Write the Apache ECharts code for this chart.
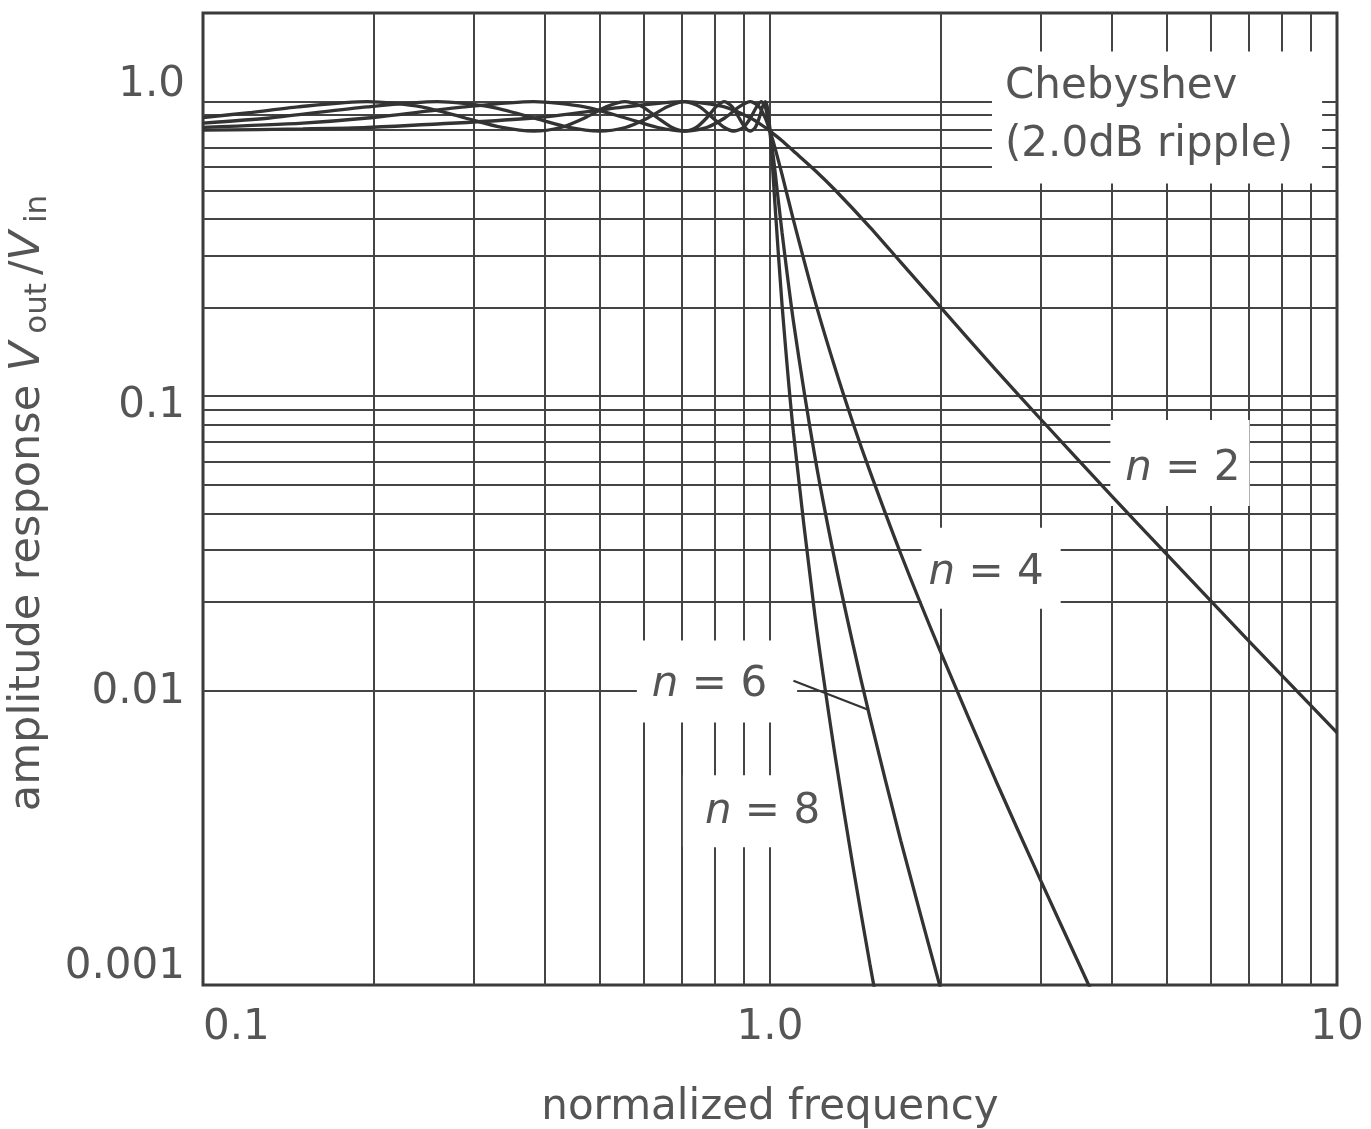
<!DOCTYPE html>
<html>
<head>
<meta charset="utf-8">
<title>Chebyshev low-pass response</title>
<script src="https://cdn.jsdelivr.net/npm/echarts@6/dist/echarts.min.js"></script>
<style>
  html, body { margin: 0; padding: 0; background: #fff; }
  #chart { width: 1371px; height: 1129px; }
</style>
</head>
<body>
<div id="chart"></div>
<script>
// Chebyshev low-pass filters, 2.0 dB passband ripple: amplitude response vs normalized frequency

// n = 2
const freqN2 = [0.1, 0.15, 0.195, 0.383, 0.556, 0.707, 0.831, 0.924, 0.981, 1.0,
  1.005, 1.01, 1.02, 1.05, 1.1, 1.2, 1.3, 1.5, 1.7, 2, 2.5, 3, 4, 5, 7, 10];
const ampN2 = [0.800, 0.808, 0.817, 0.880, 0.960, 1.0, 0.960, 0.880, 0.817, 0.794,
  0.789, 0.783, 0.771, 0.737, 0.680, 0.585, 0.503, 0.375, 0.285, 0.200, 0.123, 0.0836, 0.0459, 0.0291, 0.0147, 0.0072];

// n = 4
const freqN4 = [0.1, 0.15, 0.195, 0.290, 0.383, 0.471, 0.556, 0.634, 0.707, 0.773, 0.832, 0.882,
  0.924, 0.957, 0.981, 0.995, 1.0,
  1.005, 1.01, 1.02, 1.05, 1.1, 1.2, 1.3, 1.4, 1.5, 1.7, 2, 2.5, 3, 3.5, 4];
const ampN4 = [0.818, 0.846, 0.880, 0.960, 1.0, 0.960, 0.880, 0.817, 0.794, 0.817, 0.880, 0.960,
  1.0, 0.960, 0.880, 0.817, 0.794,
  0.771, 0.747, 0.699, 0.566, 0.396, 0.211, 0.126, 0.0812, 0.0556, 0.0292, 0.0135, 0.00496, 0.00227, 0.00119, 0.00068];

// n = 6
const freqN6 = [0.1, 0.131, 0.195, 0.259, 0.321, 0.383, 0.442, 0.5, 0.556, 0.609, 0.659, 0.707,
  0.752, 0.793, 0.831, 0.866, 0.897, 0.924, 0.947, 0.966, 0.981, 0.991, 0.998, 1.0,
  1.005, 1.01, 1.02, 1.05, 1.1, 1.2, 1.3, 1.4, 1.5, 1.7, 2, 2.1];
const ampN6 = [0.846, 0.880, 0.960, 1.0, 0.960, 0.880, 0.817, 0.794, 0.817, 0.880, 0.960, 1.0,
  0.960, 0.880, 0.817, 0.794, 0.817, 0.880, 0.960, 1.0, 0.960, 0.880, 0.817, 0.794,
  0.741, 0.687, 0.586, 0.360, 0.179, 0.0623, 0.0279, 0.0144, 0.00812, 0.00310, 0.00097, 0.00069];

// n = 8
const freqN8 = [0.1, 0.122, 0.147, 0.195, 0.243, 0.290, 0.337, 0.383, 0.428, 0.471, 0.514, 0.556,
  0.596, 0.634, 0.672, 0.707, 0.741, 0.773, 0.803, 0.831, 0.858, 0.882, 0.904, 0.924,
  0.942, 0.957, 0.970, 0.981, 0.989, 0.995, 0.999, 1.0,
  1.005, 1.01, 1.02, 1.05, 1.1, 1.2, 1.3, 1.4, 1.5, 1.6];
const ampN8 = [0.883, 0.920, 0.960, 1.0, 0.960, 0.880, 0.817, 0.794, 0.817, 0.880, 0.960, 1.0,
  0.960, 0.880, 0.817, 0.794, 0.817, 0.880, 0.960, 1.0, 0.960, 0.880, 0.817, 0.794,
  0.817, 0.880, 0.960, 1.0, 0.960, 0.880, 0.817, 0.794,
  0.699, 0.607, 0.453, 0.205, 0.0750, 0.0180, 0.00616, 0.00254, 0.00118, 0.00060];

// log-paper rulings (the outer frame covers 0.1 / 10 and 0.001 / 2)
const xGridValues = [0.2, 0.3, 0.4, 0.5, 0.6, 0.7, 0.8, 0.9, 1, 2, 3, 4, 5, 6, 7, 8, 9];
const yGridValues = [0.002, 0.003, 0.004, 0.005, 0.006, 0.007, 0.008, 0.009,
  0.01, 0.02, 0.03, 0.04, 0.05, 0.06, 0.07, 0.08, 0.09,
  0.1, 0.2, 0.3, 0.4, 0.5, 0.6, 0.7, 0.8, 0.9, 1];

// tick labels
const xTickValues = [0.1, 1, 10];
const xTickLabels = ['0.1', '1.0', '10'];
const yTickValues = [0.001, 0.01, 0.1, 1];
const yTickLabels = ['0.001', '0.01', '0.1', '1.0'];

// curve captions
const captionTexts = ['Chebyshev\n(2.0dB ripple)', '{i|n} = 2', '{i|n} = 4', '{i|n} = 6', '{i|n} = 8'];

const FONT = 'DejaVu Sans';
const TEXT = '#555';
const INK = '#333';
const RULE = '#444';
const FS = 42;

function pairs(xs, ys) { return xs.map((x, i) => [x, ys[i]]); }
function tickIndex(values, v) {
  for (let i = 0; i < values.length; i++) {
    if (Math.abs(Math.log10(v) - Math.log10(values[i])) < 1e-6) return i;
  }
  return -1;
}

// caption anchors (data units) and the white boxes that blank the ruling behind them
const captionLayout = [
  { at: [2.463, 0.8826], padding: [6, 29, 10, 13], lineHeight: 58, align: 'left' },
  { at: [5.285, 0.0593], padding: [26, 9, 14, 15], lineHeight: 46 },
  { at: [2.454, 0.0260], padding: [22, 17, 13, 7], lineHeight: 46 },
  { at: [0.8063, 0.01073], padding: [22, 30, 14, 15], lineHeight: 46 },
  { at: [0.9720, 0.00389], padding: [14, 23, 12, 22], lineHeight: 46 }
];

const curveStyle = { color: INK, width: 3.3 };
function curve(name, xs, ys, extra) {
  return Object.assign({
    type: 'line', name: name, data: pairs(xs, ys), z: 3,
    showSymbol: false, symbol: 'none', smooth: 0.25, clip: true,
    lineStyle: curveStyle, silent: true, animation: false
  }, extra || {});
}

const chart = echarts.init(document.getElementById('chart'), null, { renderer: 'canvas' });

const option = {
  backgroundColor: '#fff',
  animation: false,
  grid: {
    left: 203, right: 34, top: 13, bottom: 144,
    outerBoundsMode: 'none', containLabel: false,
    show: true, borderColor: '#3a3a3a', borderWidth: 3, backgroundColor: 'transparent'
  },
  xAxis: {
    type: 'log', logBase: 10, min: 0.1, max: 10,
    axisLine: { show: false }, axisTick: { show: false }, splitLine: { show: false },
    axisLabel: {
      show: true, margin: 20, fontFamily: FONT, fontSize: FS, color: TEXT, lineHeight: 46,
      alignMinLabel: 'left', showMinLabel: true, showMaxLabel: true,
      formatter: v => { const i = tickIndex(xTickValues, v); return i < 0 ? '' : xTickLabels[i]; }
    },
    name: 'normalized frequency', nameLocation: 'middle', nameGap: 100,
    nameTextStyle: { fontFamily: FONT, fontSize: FS, color: TEXT, lineHeight: 46 }
  },
  yAxis: {
    type: 'log', logBase: 10, min: 0.001, max: 2,
    axisLine: { show: false }, axisTick: { show: false }, splitLine: { show: false },
    axisLabel: {
      show: true, margin: 18, fontFamily: FONT, fontSize: FS, color: TEXT,
      showMinLabel: true, showMaxLabel: true,
      formatter: v => { const i = tickIndex(yTickValues, v); return i < 0 ? '' : '{y' + i + '|' + yTickLabels[i] + '}'; },
      rich: {
        y0: { fontFamily: FONT, fontSize: FS, color: TEXT, padding: [0, 0, 36, 0] },
        y1: { fontFamily: FONT, fontSize: FS, color: TEXT, padding: [4, 0, 0, 0] },
        y2: { fontFamily: FONT, fontSize: FS, color: TEXT, padding: [20, 0, 0, 0] },
        y3: { fontFamily: FONT, fontSize: FS, color: TEXT, padding: [0, 0, 34, 0] }
      }
    },
    name: '{t|amplitude response }{i|V}{s|out}{t|/}{i|V}{s|in}',
    nameLocation: 'middle', nameRotate: 90, nameGap: 130,
    nameTextStyle: {
      fontFamily: FONT, fontSize: FS, color: TEXT,
      rich: {
        t: { fontFamily: FONT, fontSize: 43, color: TEXT, lineHeight: 52 },
        i: { fontFamily: FONT, fontSize: 43, color: TEXT, fontStyle: 'italic', lineHeight: 52, padding: [0, 2, 0, 0] },
        s: { fontFamily: FONT, fontSize: 31, color: TEXT, lineHeight: 26, verticalAlign: 'bottom', padding: [0, 8, 0, 6] }
      }
    }
  },
  series: [
    {
      // paper ruling
      type: 'line', data: [], z: 1, silent: true, animation: false,
      markLine: {
        z: 1, silent: true, animation: false, symbol: ['none', 'none'],
        label: { show: false }, emphasis: { disabled: true },
        lineStyle: { color: RULE, width: 2, type: 'solid' },
        data: xGridValues.map(v => ({ xAxis: v })).concat(yGridValues.map(v => ({ yAxis: v })))
      }
    },
    {
      // captions on white boxes
      type: 'scatter', z: 2, silent: true, animation: false,
      symbolSize: 0, itemStyle: { opacity: 1 },
      data: captionTexts.map((t, k) => ({
        value: captionLayout[k].at,
        label: {
          show: true, position: 'inside', formatter: t,
          fontFamily: FONT, fontSize: FS, color: TEXT, opacity: 1,
          lineHeight: captionLayout[k].lineHeight,
          align: captionLayout[k].align || 'center',
          backgroundColor: '#fff',
          padding: captionLayout[k].padding,
          rich: {
            i: { fontFamily: FONT, fontSize: FS, color: TEXT, fontStyle: 'italic', lineHeight: captionLayout[k].lineHeight }
          }
        }
      }))
    },
    curve('n = 2', freqN2, ampN2),
    curve('n = 4', freqN4, ampN4),
    curve('n = 6', freqN6, ampN6, {
      markLine: {
        z: 4, silent: true, animation: false, symbol: ['none', 'none'],
        label: { show: false }, emphasis: { disabled: true },
        lineStyle: { color: INK, width: 2.2, type: 'solid' },
        data: [[{ coord: [1.10, 0.0108] }, { coord: [1.49, 0.0086] }]]
      }
    }),
    curve('n = 8', freqN8, ampN8)
  ]
};

chart.setOption(option);
</script>
</body>
</html>
